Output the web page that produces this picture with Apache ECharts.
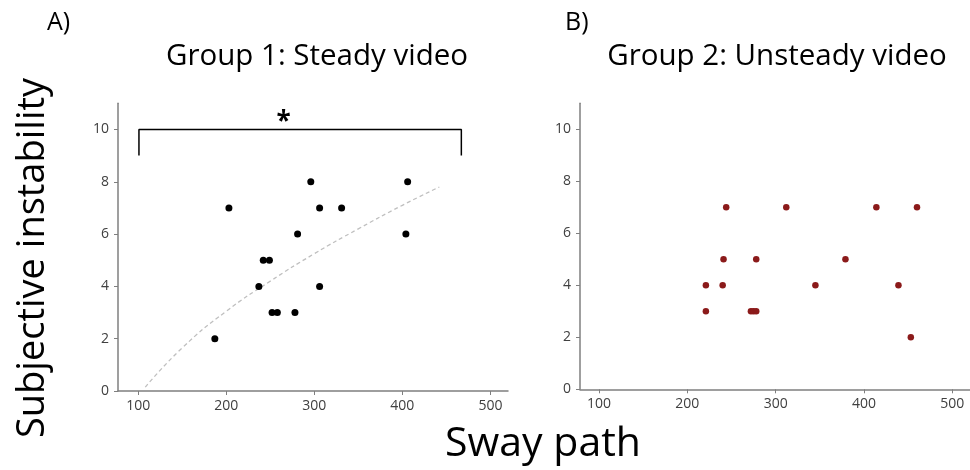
<!DOCTYPE html>
<html>
<head>
<meta charset="utf-8">
<script src="https://cdn.jsdelivr.net/npm/echarts@6/dist/echarts.min.js"></script>
<style>
html,body{margin:0;padding:0;background:#fff;}
#chart{width:970px;height:470px;}
</style>
</head>
<body>
<div id="chart"></div>
<script>
// Group 1: Steady video (sway path, subjective instability)
const group1X = [187, 203, 237, 242, 249, 252, 258, 278, 281, 296, 306, 306, 331, 404, 406];
const group1Y = [2, 7, 4, 5, 5, 3, 3, 3, 6, 8, 7, 4, 7, 6, 8];
// Group 2: Unsteady video
const group2X = [221, 221, 240, 241, 244, 272, 275, 278, 278, 312, 345, 379, 414, 439, 453, 460];
const group2Y = [3, 4, 4, 5, 7, 3, 3, 3, 5, 7, 4, 5, 7, 4, 2, 7];
// Dashed trend curve for group 1
const trendX = [108, 150, 200, 250, 300, 350, 400, 442];
const trendY = [0.15, 1.65, 3.05, 4.2, 5.25, 6.2, 7.1, 7.8];
// Significance bracket
const bracketX = [100.8, 100.8, 467, 467];
const bracketY = [9, 10, 10, 9];
const xTicks = [100, 200, 300, 400, 500];
const yTicks = [0, 2, 4, 6, 8, 10];
const titles = ['Group 1: Steady video', 'Group 2: Unsteady video'];
const panelLetters = ['A)', 'B)'];
const yAxisTitle = 'Subjective instability';
const xAxisTitle = 'Sway path';

const FONT = 'Open Sans';
const zip = (a, b) => a.map((v, i) => [v, b[i]]);

function xAxisCfg(gi, min) {
  return {
    type: 'value', gridIndex: gi, min: min, max: 520,
    axisLine: {show: true, lineStyle: {color: '#7f7f7f', width: 1.5}},
    axisTick: {show: true, length: 4, lineStyle: {color: '#7f7f7f'}, customValues: xTicks},
    axisLabel: {color: '#404040', fontSize: 14, fontFamily: FONT, margin: 8, customValues: xTicks},
    splitLine: {show: false}
  };
}
function yAxisCfg(gi) {
  return {
    type: 'value', gridIndex: gi, min: 0, max: 11,
    axisLine: {show: true, lineStyle: {color: '#7f7f7f', width: 1.5}},
    axisTick: {show: true, length: 4, lineStyle: {color: '#7f7f7f'}, customValues: yTicks},
    axisLabel: {color: '#404040', fontSize: 14, fontFamily: FONT, margin: 9, customValues: yTicks},
    splitLine: {show: false}
  };
}
function txt(text, x, y, size, align, rot) {
  return {type: 'text', x: x, y: y, rotation: rot || 0,
    style: {text: text, fontFamily: FONT, fontSize: size, fill: '#000', align: align, verticalAlign: 'top'}};
}

const chart = echarts.init(document.getElementById('chart'), null, {renderer: 'canvas'});
chart.setOption({
  animation: false,
  backgroundColor: '#fff',
  grid: [
    {left: 118, top: 103.3, width: 390, height: 287.7},
    {left: 580, top: 103.3, width: 390, height: 286}
  ],
  xAxis: [xAxisCfg(0, 77), xAxisCfg(1, 78.5)],
  yAxis: [yAxisCfg(0), yAxisCfg(1)],
  graphic: [
    txt(panelLetters[0], 47, 10, 25, 'left'),
    txt(titles[0], 317, 42, 29.5, 'center'),
    txt(panelLetters[1], 565, 10, 25, 'left'),
    txt(titles[1], 777, 42, 29.5, 'center'),
    txt(yAxisTitle, 14, 258, 38, 'center', Math.PI / 2),
    txt(xAxisTitle, 543, 424, 41, 'center')
  ],
  series: [
    {type: 'line', xAxisIndex: 0, yAxisIndex: 0, data: zip(trendX, trendY), smooth: 0.5, symbol: 'none',
     lineStyle: {color: '#bfbfbf', width: 1.3, type: [4, 3]}, z: 1},
    {type: 'line', xAxisIndex: 0, yAxisIndex: 0, data: zip(bracketX, bracketY), symbol: 'none',
     lineStyle: {color: '#000', width: 1.5}, z: 2,
     markPoint: {symbol: 'circle', symbolSize: 0, data: [{coord: [265, 10.55]}],
       label: {show: true, formatter: '*', fontSize: 26, fontWeight: 'bold', color: '#000', fontFamily: FONT, offset: [0, 8]}}},
    {type: 'scatter', xAxisIndex: 0, yAxisIndex: 0, data: zip(group1X, group1Y), symbolSize: 7,
     itemStyle: {color: '#000', opacity: 1}, z: 3},
    {type: 'scatter', xAxisIndex: 1, yAxisIndex: 1, data: zip(group2X, group2Y), symbolSize: 6.5,
     itemStyle: {color: '#8b1a1a', opacity: 1}, z: 3}
  ]
});
</script>
</body>
</html>
